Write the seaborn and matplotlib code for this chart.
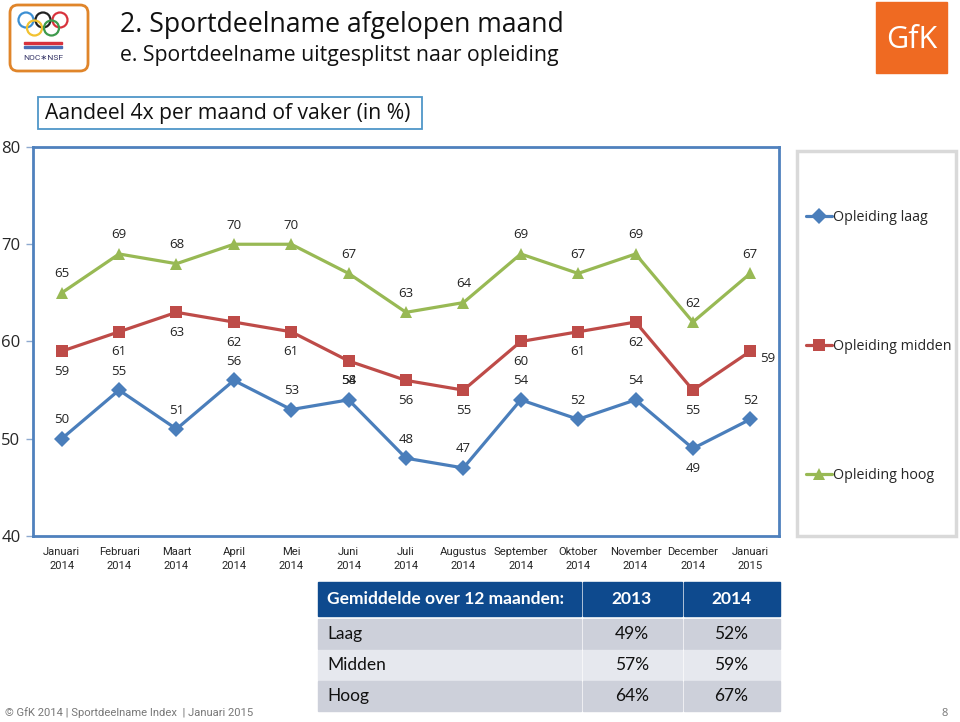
import numpy as np
import pandas as pd
import seaborn as sns
import matplotlib.pyplot as plt
from matplotlib.patches import Rectangle, FancyBboxPatch, Circle

# chart data
months = ["Januari\n2014", "Februari\n2014", "Maart\n2014", "April\n2014", "Mei\n2014",
          "Juni\n2014", "Juli\n2014", "Augustus\n2014", "September\n2014", "Oktober\n2014",
          "November\n2014", "December\n2014", "Januari\n2015"]
laag = [50, 55, 51, 56, 53, 54, 48, 47, 54, 52, 54, 49, 52]
midden = [59, 61, 63, 62, 61, 58, 56, 55, 60, 61, 62, 55, 59]
hoog = [65, 69, 68, 70, 70, 67, 63, 64, 69, 67, 69, 62, 67]
series_names = ["Opleiding laag", "Opleiding midden", "Opleiding hoog"]

# table data
table_rows = ["Laag", "Midden", "Hoog"]
avg_2013 = ["49%", "57%", "64%"]
avg_2014 = ["52%", "59%", "67%"]

# label placement per point: a=above, b=below, r=right
pos_laag = ["a"] * 11 + ["b", "a"]
pos_midden = ["b"] * 12 + ["r"]
pos_hoog = ["a"] * 13

colors = {"Opleiding laag": "#4a7ebb", "Opleiding midden": "#be4b48", "Opleiding hoog": "#98b954"}
markers = {"Opleiding laag": "D", "Opleiding midden": "s", "Opleiding hoog": "^"}

sns.set_style("white")
plt.rcParams["font.family"] = ["Open Sans", "DejaVu Sans"]

df = pd.DataFrame({
    "x": list(range(len(months))) * 3,
    "waarde": laag + midden + hoog,
    "serie": np.repeat(series_names, len(months)),
})

fig = plt.figure(figsize=(9.6, 7.22), dpi=100)
W, H = 960, 722

# overlay in pixel coords for header, logos, table
bg = fig.add_axes([0, 0, 1, 1], zorder=0)
bg.set_xlim(0, W)
bg.set_ylim(H, 0)
bg.axis("off")

ax = fig.add_axes([33 / W, 1 - 536 / H, (779 - 33) / W, (536 - 147) / H], zorder=1)
sns.lineplot(data=df, x="x", y="waarde", hue="serie", style="serie",
             palette=colors, markers=markers, dashes=False, linewidth=2.3,
             markersize=8, markeredgewidth=0, ax=ax, legend=True)

ax.set_xlim(-0.5, len(months) - 0.5)
ax.set_ylim(40, 80)
ax.set_yticks([40, 50, 60, 70, 80])
ax.set_yticklabels(["40", "50", "60", "70", "80"], fontsize=12)
ax.set_xticks(range(len(months)))
ax.set_xticklabels(months, fontsize=8.1, family=["Roboto", "DejaVu Sans"],
                   linespacing=1.45)
ax.set_xticks(np.arange(-0.5, len(months)), minor=True)
ax.tick_params(axis="x", which="major", length=0, pad=8)
ax.tick_params(axis="x", which="minor", length=4, color="#8ea9cf", width=1)
ax.tick_params(axis="y", length=5, color="#8ea9cf", width=1, pad=4, left=True)
ax.set_xlabel("")
ax.set_ylabel("")
for s in ax.spines.values():
    s.set_color("#4f81bd")
    s.set_linewidth(2)

offsets = {"a": (0, 19), "b": (0, -20), "r": (17, -7)}
for vals, pos in [(laag, pos_laag), (midden, pos_midden), (hoog, pos_hoog)]:
    for i, (v, p) in enumerate(zip(vals, pos)):
        ax.annotate(str(v), (i, v), xytext=offsets[p], textcoords="offset pixels",
                    ha="center", va="center", fontsize=9.5, color="#222222")

# legend with separate frame
handles, labels = ax.get_legend_handles_labels()
ax.legend_.remove()
leg = fig.legend(handles, labels, loc="upper left", bbox_to_anchor=(799 / W, 1 - 203 / H),
                 frameon=False, fontsize=10.3, handlelength=1.8, handletextpad=0.1,
                 labelspacing=7.95, borderpad=0)
bg.add_patch(Rectangle((797, 151), 159, 385, fill=False, edgecolor="#d9d9d9", linewidth=2.5))

# header texts
bg.text(120, 25, "2. Sportdeelname afgelopen maand", fontsize=19.2, va="center", color="#111111")
bg.text(120, 56, "e. Sportdeelname uitgesplitst naar opleiding", fontsize=15.3, va="center", color="#111111")
bg.add_patch(Rectangle((38, 97), 384, 32, fill=False, edgecolor="#4f96c8", linewidth=1.3))
bg.text(45, 113, "Aandeel 4x per maand of vaker (in %)", fontsize=15.2, va="center", color="#111111")

# NOC*NSF logo
bg.add_patch(FancyBboxPatch((10, 5), 78, 66, boxstyle="round,pad=0,rounding_size=8",
                            fill=False, edgecolor="#e0852a", linewidth=2))
ring_cols = ["#3b8fd3", "#222222", "#d8323c", "#f2c230", "#3d9a4c"]
ring_pos = [(26, 20), (43, 20), (60, 20), (34.5, 28), (51.5, 28)]
for c, (cx, cy) in zip(ring_cols, ring_pos):
    bg.add_patch(Circle((cx, cy), 7.5, fill=False, edgecolor=c, linewidth=1.6))
bg.add_patch(Rectangle((24, 42), 38, 2, color="#d8323c"))
bg.add_patch(Rectangle((24, 46), 38, 2, color="#4a6fb5"))
bg.text(43, 58, "NOC\u2217NSF", fontsize=6, ha="center", va="center", color="#333366",
        family=["Roboto", "DejaVu Sans"])

# GfK logo
bg.add_patch(Rectangle((876, 2), 71, 71, color="#ef6a22"))
bg.text(911.5, 40, "GfK", fontsize=22, ha="center", va="center", color="white")

# table
hdr_col = "#0e4a8e"
col_x = [318, 582, 683, 780]
bg.add_patch(Rectangle((col_x[0], 582), col_x[1] - col_x[0] - 1, 34, color=hdr_col))
bg.add_patch(Rectangle((col_x[1] + 1, 582), col_x[2] - col_x[1] - 2, 34, color=hdr_col))
bg.add_patch(Rectangle((col_x[2] + 1, 582), col_x[3] - col_x[2] - 1, 34, color=hdr_col))
tfont = ["Lato", "DejaVu Sans"]
bg.text(327, 599, "Gemiddelde over 12 maanden:", fontsize=12.5, fontweight="bold",
        color="white", va="center", family=tfont)
bg.text(632, 599, "2013", fontsize=12.5, fontweight="bold", color="white", ha="center",
        va="center", family=tfont)
bg.text(731, 599, "2014", fontsize=12.5, fontweight="bold", color="white", ha="center",
        va="center", family=tfont)
row_y = [619, 650, 681]
row_cols = ["#cdd0da", "#e6e8ee", "#cdd0da"]
for name, a, b, y, rc in zip(table_rows, avg_2013, avg_2014, row_y, row_cols):
    bg.add_patch(Rectangle((col_x[0], y), col_x[1] - col_x[0] - 1, 30, color=rc))
    bg.add_patch(Rectangle((col_x[1] + 1, y), col_x[2] - col_x[1] - 2, 30, color=rc))
    bg.add_patch(Rectangle((col_x[2] + 1, y), col_x[3] - col_x[2] - 1, 30, color=rc))
    bg.text(327, y + 15, name, fontsize=12.5, va="center", color="#111111", family=tfont)
    bg.text(632, y + 15, a, fontsize=12.5, ha="center", va="center", color="#111111", family=tfont)
    bg.text(731, y + 15, b, fontsize=12.5, ha="center", va="center", color="#111111", family=tfont)

# footer
bg.text(5, 713, "\u00a9 GfK 2014 | Sportdeelname Index  | Januari 2015", fontsize=8.1,
        va="center", color="#777777", family=["Roboto", "DejaVu Sans"])
bg.text(948, 713, "8", fontsize=8, va="center", ha="right", color="#777777")

fig.savefig("out.png", dpi=100)
